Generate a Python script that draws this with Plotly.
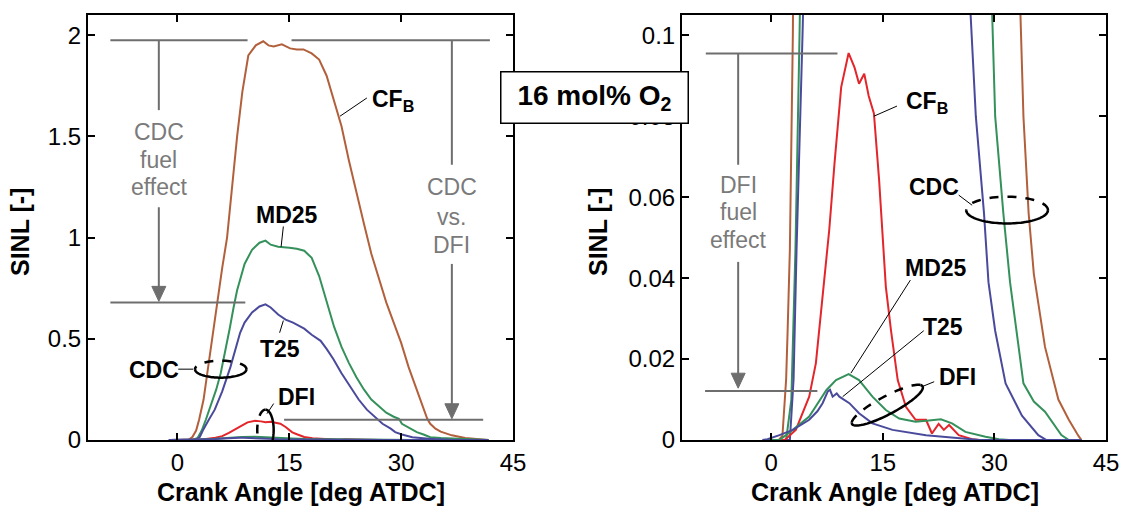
import numpy as np
import plotly.graph_objects as go

# ---------------- data ----------------
cfb_cdc_x = [-1, 1.0, 1.5, 2.0, 2.2, 2.5, 2.9, 3.5, 4.0, 5.0, 6.0, 6.65, 7.3, 8.0, 8.7, 9.5, 10.5, 11.5, 12.2, 12.9,
             14.0, 15.1, 16.0, 16.9, 18.0, 19.0, 20.0, 21.0, 22.0, 23.0, 24.0, 25.0, 26.0, 27.0, 28.0, 29.0, 30.0,
             31.0, 32.0, 33.0, 33.5, 33.9, 34.6, 35.3, 36.8, 38.6, 40.0, 41.3, 41.7]
cfb_cdc_y = [0, 0, 0.001, 0.015, 0.027, 0.047, 0.1, 0.2, 0.33, 0.6, 0.85, 1.0, 1.25, 1.5, 1.72, 1.9, 1.95, 1.97, 1.95,
             1.945, 1.955, 1.935, 1.93, 1.93, 1.91, 1.88, 1.8, 1.68, 1.55, 1.38, 1.22, 1.07, 0.92, 0.8, 0.68, 0.58,
             0.48, 0.36, 0.26, 0.16, 0.105, 0.08, 0.056, 0.041, 0.023, 0.010, 0.005, 0.001, 0]

md25_cdc_x = [-1, 2.0, 2.7, 3.25, 3.8, 4.5, 5.2, 5.8, 6.5, 7.0, 7.5, 8.0, 9.0, 10.0, 11.0, 11.8, 12.5, 13.5, 15.0,
              16.0, 17.0, 18.0, 19.0, 20.0, 21.0, 22.0, 23.0, 24.0, 25.0, 26.0, 27.0, 28.0, 29.0, 29.7, 30.1, 31.2,
              32.1, 33.0, 33.9, 35.3, 36.8, 39.0, 40.0, 41.7]
md25_cdc_y = [0, 0, 0.01, 0.047, 0.1, 0.17, 0.25, 0.33, 0.45, 0.55, 0.65, 0.74, 0.87, 0.94, 0.975, 0.985, 0.965,
              0.955, 0.95, 0.945, 0.935, 0.9, 0.81, 0.68, 0.56, 0.46, 0.38, 0.31, 0.25, 0.2, 0.165, 0.135, 0.115,
              0.105, 0.08, 0.056, 0.039, 0.027, 0.014, 0.0095, 0.007, 0.0012, 0, 0]

t25_cdc_x = [-1, 2.5, 3.0, 3.4, 4.2, 5.0, 6.0, 6.9, 7.1, 8.4, 9.0, 10.0, 11.0, 11.8, 12.5, 13.5, 14.5, 15.5, 17.0,
             18.0, 19.2, 20.0, 20.9, 22.0, 23.2, 24.3, 25.4, 26.8, 27.5, 28.6, 29.2, 30.1, 31.5, 33.7, 35.9, 37.0,
             41.7]
t25_cdc_y = [0, 0, 0.015, 0.047, 0.1, 0.15, 0.24, 0.33, 0.36, 0.53, 0.58, 0.63, 0.66, 0.67, 0.655, 0.62, 0.595,
             0.58, 0.55, 0.52, 0.49, 0.45, 0.4, 0.33, 0.26, 0.2, 0.15, 0.105, 0.08, 0.056, 0.039, 0.027, 0.014,
             0.006, 0.0012, 0, 0]

cfb_dfi_x = [-1, 1.8, 3.3, 5.1, 6.0, 6.9, 7.8, 8.5, 9.4, 10.4, 11.2, 11.8, 12.5, 13.1, 13.8, 14.5, 15.0, 15.4, 16.1,
             17.0, 18.1, 19.4, 20.8, 21.6, 22.5, 23.2, 23.9, 25.2, 27.0, 28.0, 41.7]
cfb_dfi_y = [0, 0, 0.0025, 0.0107, 0.019, 0.0354, 0.052, 0.0683, 0.0872, 0.0956, 0.092, 0.088, 0.0905, 0.085,
             0.0807, 0.0642, 0.049, 0.0379, 0.027, 0.0148, 0.0082, 0.005, 0.005, 0.0016, 0.004, 0.0025, 0.0037,
             0.0012, 0.0002, 0, 0]

md25_dfi_x = [-1, 1.1, 2.9, 5.1, 7.4, 8.7, 10.4, 11.8, 13.6, 15.4, 17.2, 19.4, 21.2, 22.8, 24.3, 26.1, 28.8, 30.6,
              32.0, 41.7]
md25_dfi_y = [0, 0, 0.0025, 0.0058, 0.0123, 0.0148, 0.0163, 0.0148, 0.0107, 0.0074, 0.0053, 0.0045, 0.0048,
              0.0051, 0.0041, 0.002, 0.0008, 0.0002, 0, 0]

t25_dfi_x = [-1.2, -0.5, 1.1, 2.9, 5.1, 6.2, 6.9, 7.6, 7.9, 8.25, 8.8, 9.15, 10.5, 11.8, 13.6, 16.3, 20.8, 25.2,
             28.0, 41.7]
t25_dfi_y = [0, 0.0002, 0.0012, 0.0025, 0.005, 0.0071, 0.0091, 0.012, 0.0124, 0.0107, 0.0115, 0.0107, 0.0091,
             0.0066, 0.0041, 0.0025, 0.0012, 0.0004, 0, 0]

x_ticks = [0, 15, 30, 45]
left_y_ticks = [0, 0.5, 1, 1.5, 2]
left_y_labels = ["0", "0.5", "1", "1.5", "2"]
right_y_ticks = [0, 0.02, 0.04, 0.06, 0.08, 0.1]
right_y_labels = ["0", "0.02", "0.04", "0.06", "0.08", "0.1"]

X_RANGE = [-12, 45]
LEFT_Y_RANGE = [0, 2.1]
RIGHT_Y_RANGE = [0, 0.105]

# ---------------- styling ----------------
BROWN = "#b2603c"
GREEN = "#35915b"
BLUE = "#4a4a9c"
RED = "#e3262b"
GRAY = "#6e6e6e"
TXTGRAY = "#7a7a7a"
FONT = "Liberation Sans, Arial, Helvetica, sans-serif"

W, H = 1121, 508
ML, MR, MT, MB = 88, 15, 15, 68
PW = W - ML - MR
PH = H - MT - MB
LEFT_DOM = [0, (513 - ML) / PW]
RIGHT_DOM = [(682 - ML) / PW, 1]

# pixels per data unit in each panel (for arrowheads / tilted ellipse)
SCALE = {
    "x": (LEFT_DOM[1] - LEFT_DOM[0]) * PW / (X_RANGE[1] - X_RANGE[0]),
    "y": PH / (LEFT_Y_RANGE[1] - LEFT_Y_RANGE[0]),
    "x2": (RIGHT_DOM[1] - RIGHT_DOM[0]) * PW / (X_RANGE[1] - X_RANGE[0]),
    "y2": PH / (RIGHT_Y_RANGE[1] - RIGHT_Y_RANGE[0]),
}

fig = go.Figure()

series = [
    (cfb_cdc_x, cfb_cdc_y, BROWN), (md25_cdc_x, md25_cdc_y, GREEN), (t25_cdc_x, t25_cdc_y, BLUE),
    (cfb_dfi_x, cfb_dfi_y, RED), (md25_dfi_x, md25_dfi_y, GREEN), (t25_dfi_x, t25_dfi_y, BLUE),
]
for xa, ya in (("x", "y"), ("x2", "y2")):
    for xs, ys, c in series:
        fig.add_trace(go.Scatter(x=xs, y=ys, mode="lines", line=dict(color=c, width=2),
                                 xaxis=xa, yaxis=ya, showlegend=False, hoverinfo="skip"))

shapes = []
annotations = []


def line(x0, y0, x1, y1, xr="x", yr="y", color=GRAY, width=2, dash="solid"):
    shapes.append(dict(type="line", xref=xr, yref=yr, x0=x0, y0=y0, x1=x1, y1=y1,
                       line=dict(color=color, width=width, dash=dash), layer="above"))


def arrow_down(x, y_tip, y_tail, xr="x", yr="y"):
    hw = 7.0 / SCALE[xr]
    hh = 15.0 / SCALE[yr]
    line(x, y_tail, x, y_tip + hh * 0.5, xr, yr)
    p = f"M {x - hw},{y_tip + hh} L {x + hw},{y_tip + hh} L {x},{y_tip} Z"
    shapes.append(dict(type="path", path=p, xref=xr, yref=yr, fillcolor=GRAY, line=dict(color=GRAY, width=1),
                       layer="above"))


def text(x, y, s, xr="x", yr="y", size=23, color="black", bold=True):
    annotations.append(dict(x=x, y=y, xref=xr, yref=yr, text=(f"<b>{s}</b>" if bold else s), showarrow=False,
                            font=dict(family=FONT, size=size, color=color), xanchor="center", yanchor="middle"))


def path_from(xs, ys, xr, yr, dash):
    p = "M " + " L ".join(f"{a:.4f},{b:.6f}" for a, b in zip(xs, ys))
    shapes.append(dict(type="path", path=p, xref=xr, yref=yr, line=dict(color="black", width=2.5, dash=dash),
                       layer="above"))


def ellipse(cx, cy, rx, ry, dash_from, dash_to, xr="x", yr="y"):
    t1 = np.linspace(dash_from, dash_to, 40)
    t2 = np.linspace(dash_to, dash_from + 2 * np.pi, 60)
    path_from(cx + rx * np.cos(t1), cy + ry * np.sin(t1), xr, yr, "dash")
    path_from(cx + rx * np.cos(t2), cy + ry * np.sin(t2), xr, yr, "solid")


# ---------------- left panel annotations ----------------
line(-9.0, 1.975, 9.4, 1.975)
line(15.3, 1.975, 41.9, 1.975)
line(-2.5, 1.975, -2.5, 1.63)
for yy, s in zip([1.52, 1.386, 1.252], ["CDC", "fuel", "effect"]):
    text(-2.5, yy, s, size=23, color=TXTGRAY, bold=False)
arrow_down(-2.5, 0.685, 1.15)
line(-9.0, 0.68, 9.1, 0.68)
line(36.8, 1.975, 36.8, 1.36)
for yy, s in zip([1.248, 1.104, 0.965], ["CDC", "vs.", "DFI"]):
    text(36.8, yy, s, size=23, color=TXTGRAY, bold=False)
arrow_down(36.8, 0.105, 0.87)
line(14.3, 0.1, 41.0, 0.1)

text(28.9, 1.68, "CF<sub>B</sub>")
line(21.8, 1.6, 25.4, 1.69, color="black", width=1)
text(14.7, 1.114, "MD25")
line(14.2, 1.055, 13.9, 0.955, color="black", width=1)
text(13.8, 0.45, "T25")
line(14.2, 0.59, 13.7, 0.53, color="black", width=1)
text(-3.2, 0.347, "CDC")
line(0.1, 0.35, 2.1, 0.35, color="black", width=1)
text(15.9, 0.214, "DFI")
line(12.9, 0.18, 12.0, 0.13, color="black", width=1)
ellipse(5.8, 0.35, 3.45, 0.042, 0, np.pi)
ellipse(11.8, 0.05, 1.1, 0.1, np.pi / 2, 3 * np.pi / 2)

# ---------------- right panel annotations ----------------
R = dict(xr="x2", yr="y2")
line(-8.8, 0.0955, 8.9, 0.0955, **R)
line(-4.45, 0.0955, -4.45, 0.068, **R)
for yy, s in zip([0.063, 0.0563, 0.0494], ["DFI", "fuel", "effect"]):
    text(-4.45, yy, s, size=23, color=TXTGRAY, bold=False, **R)
arrow_down(-4.45, 0.0128, 0.044, **R)
line(-8.9, 0.0121, 6.2, 0.0121, **R)

text(20.9, 0.0835, "CF<sub>B</sub>", **R)
line(13.8, 0.080, 16.9, 0.0825, color="black", width=1, **R)
text(21.9, 0.0625, "CDC", **R)
line(25.2, 0.0605, 27.0, 0.058, color="black", width=1, **R)
text(22.2, 0.0424, "MD25", **R)
line(18.7, 0.0395, 10.7, 0.0165, color="black", width=1, **R)
text(23.1, 0.028, "T25", **R)
line(20.5, 0.027, 9.6, 0.0107, color="black", width=1, **R)
text(25.0, 0.0156, "DFI", **R)
line(21.9, 0.0144, 20.3, 0.0132, color="black", width=1, **R)
ellipse(31.7, 0.0568, 5.5, 0.0033, 0, np.pi, **R)

# tilted ellipse (defined in screen pixels around a data-space centre)
ecx, ecy, ea, eb, eang = 15.6, 0.0086, 40.0, 9.0, np.deg2rad(28)


def tilt(t):
    dx = ea * np.cos(t) * np.cos(eang) - eb * np.sin(t) * np.sin(eang)
    dy = ea * np.cos(t) * np.sin(eang) + eb * np.sin(t) * np.cos(eang)
    return ecx + dx / SCALE["x2"], ecy + dy / SCALE["y2"]


tx, ty = tilt(np.linspace(0.25, np.pi - 0.1, 40))
path_from(tx, ty, "x2", "y2", "dash")
tx, ty = tilt(np.linspace(np.pi - 0.1, 2 * np.pi + 0.25, 60))
path_from(tx, ty, "x2", "y2", "solid")


# ---------------- axis titles and box ----------------
def paper_x(px):
    return (px - ML) / PW


def paper_y(py):
    return (H - MB - py) / PH


for cx in (301, 895):
    annotations.append(dict(x=paper_x(cx), y=paper_y(492), xref="paper", yref="paper", showarrow=False,
                            text="<b>Crank Angle [deg ATDC]</b>", font=dict(family=FONT, size=25, color="black"),
                            xanchor="center", yanchor="middle"))
for cx in (20, 598):
    annotations.append(dict(x=paper_x(cx), y=paper_y(232), xref="paper", yref="paper", showarrow=False,
                            text="<b>SINL [-]</b>", textangle=-90, font=dict(family=FONT, size=25, color="black"),
                            xanchor="center", yanchor="middle"))

annotations.append(dict(x=paper_x(594.5), y=paper_y(97.5), xref="paper", yref="paper", showarrow=False,
                        text="<b>16 mol% O<sub>2</sub></b>", font=dict(family=FONT, size=28, color="black"),
                        bgcolor="white", bordercolor="black", borderwidth=1.5, width=184, height=48,
                        xanchor="center", yanchor="middle"))

axis_common = dict(showline=True, linecolor="black", linewidth=2, mirror="ticks", ticks="inside", ticklen=7,
                   tickwidth=1.5, tickcolor="black", showgrid=False, zeroline=False, automargin=False,
                   tickfont=dict(family=FONT, size=24, color="black"))

fig.update_layout(
    template="none", autosize=False,
    width=W, height=H, margin=dict(l=ML, r=MR, t=MT, b=MB, autoexpand=False),
    paper_bgcolor="white", plot_bgcolor="white",
    xaxis=dict(domain=LEFT_DOM, range=X_RANGE, tickvals=x_ticks, anchor="y", **axis_common),
    yaxis=dict(domain=[0, 1], range=LEFT_Y_RANGE, tickvals=left_y_ticks, ticktext=left_y_labels, anchor="x",
               **axis_common),
    xaxis2=dict(domain=RIGHT_DOM, range=X_RANGE, tickvals=x_ticks, anchor="y2", **axis_common),
    yaxis2=dict(domain=[0, 1], range=RIGHT_Y_RANGE, tickvals=right_y_ticks, ticktext=right_y_labels, anchor="x2",
                **axis_common),
    shapes=shapes, annotations=annotations, showlegend=False,
)

fig.write_html("out.html", config={"displayModeBar": False},
               post_script="document.body.style.margin='0';document.body.style.overflow='hidden';")
